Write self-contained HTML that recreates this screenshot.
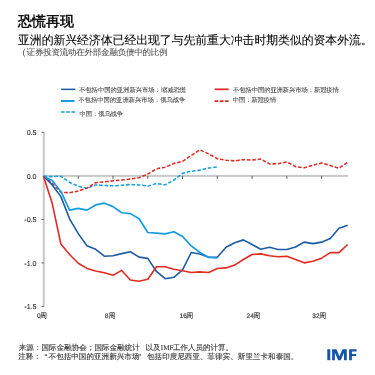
<!DOCTYPE html>
<html><head><meta charset="utf-8"><style>
html,body{margin:0;padding:0;background:#fff;width:375px;height:375px;overflow:hidden;position:relative}
</style></head><body>
<svg width="375" height="375" viewBox="0 0 375 375" style="position:absolute;left:0;top:0;will-change:transform" font-family="Liberation Sans, sans-serif" text-rendering="geometricPrecision">
<rect x="42.8" y="132.3" width="2" height="174.3" fill="#c8c8c8"/>
<rect x="42.8" y="174.9" width="305.10" height="2" fill="#c8c8c8"/>
<g fill="#5a5a5a"><rect x="77.76" y="175.9" width="1" height="3" /><rect x="112.52" y="175.9" width="1" height="3" /><rect x="147.28" y="175.9" width="1" height="3" /><rect x="182.04" y="175.9" width="1" height="3" /><rect x="216.80" y="175.9" width="1" height="3" /><rect x="251.56" y="175.9" width="1" height="3" /><rect x="286.32" y="175.9" width="1" height="3" /><rect x="321.08" y="175.9" width="1" height="3" /><rect x="41.6" y="131.88" width="2.2" height="1" /><rect x="41.6" y="218.93" width="2.2" height="1" /><rect x="41.6" y="262.45" width="2.2" height="1" /><rect x="41.6" y="305.98" width="2.2" height="1" /></g>
<g fill="none" stroke-linejoin="round" stroke-linecap="butt">
<polyline points="43.50,176.20 52.19,176.63 60.88,176.20 69.57,182.29 78.26,186.20 86.95,188.38 95.64,184.90 104.33,185.51 113.02,185.77 121.71,185.33 130.40,184.46 139.09,184.90 147.78,186.12 156.47,183.51 165.16,184.81 173.85,180.03 182.54,173.33 191.23,171.24 199.92,170.11 208.61,168.02 217.30,166.98" stroke="#169de0" stroke-width="1.55" stroke-dasharray="3.6,1.8"/>
<polyline points="43.50,176.20 52.19,183.16 60.88,192.29 69.57,192.73 78.26,190.99 86.95,188.12 95.64,182.72 104.33,181.94 113.02,180.81 121.71,180.03 130.40,178.98 139.09,177.68 147.78,174.11 156.47,168.80 165.16,167.24 173.85,163.50 182.54,161.32 191.23,155.49 199.92,149.84 208.61,153.84 217.30,158.71 225.99,160.19 234.68,160.89 243.37,159.58 252.06,160.02 260.75,159.06 269.44,163.93 278.13,163.76 286.82,161.93 295.51,166.63 304.20,167.76 312.89,165.15 321.58,163.06 330.27,165.59 338.96,168.20 347.65,162.37" stroke="#e12a22" stroke-width="1.55" stroke-dasharray="3.6,1.8"/>
<polyline points="43.50,176.20 52.19,184.90 60.88,196.64 69.57,218.83 78.26,233.62 86.95,245.80 95.64,249.28 104.33,256.24 113.02,255.72 121.71,253.63 130.40,251.72 139.09,257.11 147.78,258.41 156.47,271.46 165.16,278.69 173.85,277.29 182.54,269.90 191.23,252.50 199.92,254.06 208.61,257.28 217.30,257.28 225.99,247.28 234.68,242.67 243.37,239.88 252.06,244.50 260.75,249.19 269.44,247.28 278.13,249.54 286.82,249.54 295.51,247.02 304.20,242.15 312.89,243.62 321.58,242.15 330.27,238.58 338.96,228.31 347.65,225.27" stroke="#1d5ba6" stroke-width="1.6"/>
<polyline points="43.50,176.20 52.19,180.55 60.88,191.42 69.57,210.13 78.26,208.39 86.95,210.13 95.64,204.91 104.33,203.17 113.02,206.65 121.71,212.74 130.40,213.61 139.09,218.83 147.78,232.49 156.47,233.10 165.16,233.88 173.85,231.71 182.54,236.49 191.23,245.80 199.92,252.50 208.61,257.28 217.30,257.98" stroke="#169de0" stroke-width="1.7"/>
<polyline points="43.50,176.20 52.19,203.17 60.88,244.06 69.57,254.50 78.26,263.20 86.95,268.42 95.64,271.03 104.33,272.77 113.02,275.21 121.71,270.42 130.40,279.99 139.09,281.30 147.78,279.21 156.47,266.68 165.16,266.68 173.85,269.29 182.54,270.68 191.23,272.51 199.92,271.90 208.61,272.51 217.30,268.51 225.99,267.90 234.68,265.11 243.37,259.46 252.06,254.50 260.75,253.89 269.44,255.72 278.13,256.68 286.82,256.33 295.51,259.46 304.20,262.85 312.89,261.29 321.58,258.15 330.27,252.59 338.96,252.59 347.65,244.50" stroke="#e12a22" stroke-width="1.6"/>
</g>
<g stroke-width="1.7">
<rect x="61" y="88.6" width="14.4" height="1.5" fill="#1d5ba6" stroke="none"/>
<line x1="61" y1="101" x2="74.5" y2="101" stroke="#169de0" stroke-width="2"/>
<line x1="61" y1="112" x2="75" y2="112" stroke="#169de0" stroke-dasharray="3.6,1.6"/>
<line x1="214.6" y1="89.3" x2="228.7" y2="89.3" stroke="#e12a22"/>
<line x1="214.6" y1="101.2" x2="228.7" y2="101.2" stroke="#e12a22" stroke-dasharray="3.6,1.6"/>
</g>
<g opacity="0.999">
<text x="18" y="26.2" font-size="14" font-weight="bold" fill="#111" stroke="#111" stroke-width="0">恐慌再现</text>
<text x="18.00 29.82 41.64 53.46 65.28 77.10 88.92 100.74 112.56 124.38 136.20 148.02 159.84 171.66 183.48 195.30 207.12 218.94 230.76 242.58 254.40 266.22 278.04 289.86 301.68 313.50 325.32 337.14 348.96 360.78" y="43.6" font-size="11.9" fill="#000" stroke="#000" stroke-width="0.08" >亚洲的新兴经济体已经出现了与先前重大冲击时期类似的资本外流。</text>
<text x="22.6" y="55" font-size="8.5" fill="#444">(</text>
<text x="26.60 34.88 43.16 51.44 59.72 68.00 76.28 84.56 92.84 101.12 109.40 117.68 125.96 134.24 142.52 150.80 159.08" y="55" font-size="8.5" fill="#4a4a4a" stroke="#4a4a4a" stroke-width="0.04" >证券投资流动在外部金融负债中的比例</text>
<text x="79.00 85.30 91.60 97.90 104.20 110.50 116.80 123.10 129.40 135.70 142.00 148.30 156.87 160.90 167.20 173.50 179.80" y="91.7" font-size="6.3" fill="#3a3a3a" stroke="#3a3a3a" stroke-width="0.06">不包括中国的亚洲新兴市场:缩减恐慌</text>
<text x="78.30 84.60 90.90 97.20 103.50 109.80 116.10 122.40 128.70 135.00 141.30 147.60 156.17 160.20 166.50 172.80 179.10" y="102" font-size="6.3" fill="#3a3a3a" stroke="#3a3a3a" stroke-width="0.06">不包括中国的亚洲新兴市场:俄乌战争</text>
<text x="79.60 85.80 94.22 98.20 104.40 110.60 116.80" y="116" font-size="6.3" fill="#3a3a3a" stroke="#3a3a3a" stroke-width="0.06">中国:俄乌战争</text>
<text x="233.00 239.23 245.46 251.69 257.92 264.15 270.38 276.61 282.84 289.07 295.30 301.53 310.00 313.99 320.22 326.45 332.68" y="91.6" font-size="6.3" fill="#3a3a3a" stroke="#3a3a3a" stroke-width="0.06">不包括中国的亚洲新兴市场:新冠疫情</text>
<text x="232.80 239.00 247.42 251.40 257.60 263.80 270.00" y="102.4" font-size="6.3" fill="#3a3a3a" stroke="#3a3a3a" stroke-width="0.06">中国:新冠疫情</text>
<text x="36.5" y="134.9" font-size="7.1" fill="#2a2a2a" stroke="#2a2a2a" stroke-width="0.1" text-anchor="end">0.5</text>
<text x="36.5" y="178.6" font-size="7.1" fill="#2a2a2a" stroke="#2a2a2a" stroke-width="0.1" text-anchor="end">0.0</text>
<text x="36.5" y="222" font-size="7.1" fill="#2a2a2a" stroke="#2a2a2a" stroke-width="0.1" text-anchor="end">-0.5</text>
<text x="36.5" y="265.9" font-size="7.1" fill="#2a2a2a" stroke="#2a2a2a" stroke-width="0.1" text-anchor="end">-1.0</text>
<text x="36.5" y="308.8" font-size="7.1" fill="#2a2a2a" stroke="#2a2a2a" stroke-width="0.1" text-anchor="end">-1.5</text>
<text x="37.0" y="317.9" font-size="6.6" fill="#2a2a2a" stroke="#2a2a2a" stroke-width="0.15">0</text><text x="40.1" y="317.9" font-size="7" fill="#333" stroke="#333" stroke-width="0.1">周</text>
<text x="104.8" y="317.9" font-size="6.6" fill="#2a2a2a" stroke="#2a2a2a" stroke-width="0.15">8</text><text x="108.5" y="317.9" font-size="7" fill="#333" stroke="#333" stroke-width="0.1">周</text>
<text x="179.6" y="317.9" font-size="6.6" fill="#2a2a2a" stroke="#2a2a2a" stroke-width="0.15">16</text><text x="186.2" y="317.9" font-size="7" fill="#333" stroke="#333" stroke-width="0.1">周</text>
<text x="246.6" y="317.9" font-size="6.6" fill="#2a2a2a" stroke="#2a2a2a" stroke-width="0.15">24</text><text x="253.2" y="317.9" font-size="7" fill="#333" stroke="#333" stroke-width="0.1">周</text>
<text x="312.3" y="317.9" font-size="6.6" fill="#2a2a2a" stroke="#2a2a2a" stroke-width="0.15">32</text><text x="319.2" y="317.9" font-size="7" fill="#333" stroke="#333" stroke-width="0.1">周</text>
<text x="18.80 26.37 33.94 41.51 49.08 56.65 64.22 71.79 79.36 86.93 94.50 102.07 109.64 117.21 124.78 132.35" y="349.7" font-size="7.5" fill="#333" stroke="#333" stroke-width="0.12" >来源：国际金融协会；国际金融统计</text>
<text x="145.60 153.10" y="349.7" font-size="7.5" fill="#333" stroke="#333" stroke-width="0.12" >以及</text>
<text x="160.8" y="349.8" font-size="7.2" font-family="Liberation Serif, serif" fill="#333" stroke="#333" stroke-width="0.1">IMF</text>
<text x="173.00 180.50 188.00 195.50 203.00 210.50 218.00 225.50" y="349.7" font-size="7.5" fill="#333" stroke="#333" stroke-width="0.12" >工作人员的计算。</text>
<text x="18.30 25.87 33.44 41.01 48.58 56.15 63.72 71.29 78.86 86.43 94.00 101.57 109.14 116.71 124.28 131.85 139.42 146.99 154.56 162.13 169.70 177.27 184.84 192.41 199.98 207.55 215.12 222.69 230.26 237.83 245.40 252.97 260.54 268.11 275.68 283.25 290.82" y="359.0" font-size="7.5" fill="#333" stroke="#333" stroke-width="0.12" >注释： 不包括中国的亚洲新兴市场 包括印度尼西亚、菲律宾、斯里兰卡和泰国。</text>
<text x="44.4" y="359.8" font-size="8.5" fill="#333" stroke="#333" stroke-width="0.1">“</text>
<text x="138.2" y="359.8" font-size="8.5" fill="#333" stroke="#333" stroke-width="0.1">”</text>
</g>
<g fill="#1656a8">
<rect x="327.3" y="349.2" width="3" height="11"/>
<path d="M332.1,349.2 L336.4,349.2 L339.45,356.2 L342.5,349.2 L346.8,349.2 L346.8,360.2 L344,360.2 L344,352.8 L340.7,360.2 L338.2,360.2 L334.9,352.8 L334.9,360.2 L332.1,360.2 Z"/>
<path d="M349.1,349.3 L356.6,349.3 L356.6,351.4 L351.9,351.4 L351.9,354.0 L356.2,354.0 L356.2,355.9 L351.9,355.9 L351.9,360.2 L349.1,360.2 Z"/>
</g>
</svg>
</body></html>
